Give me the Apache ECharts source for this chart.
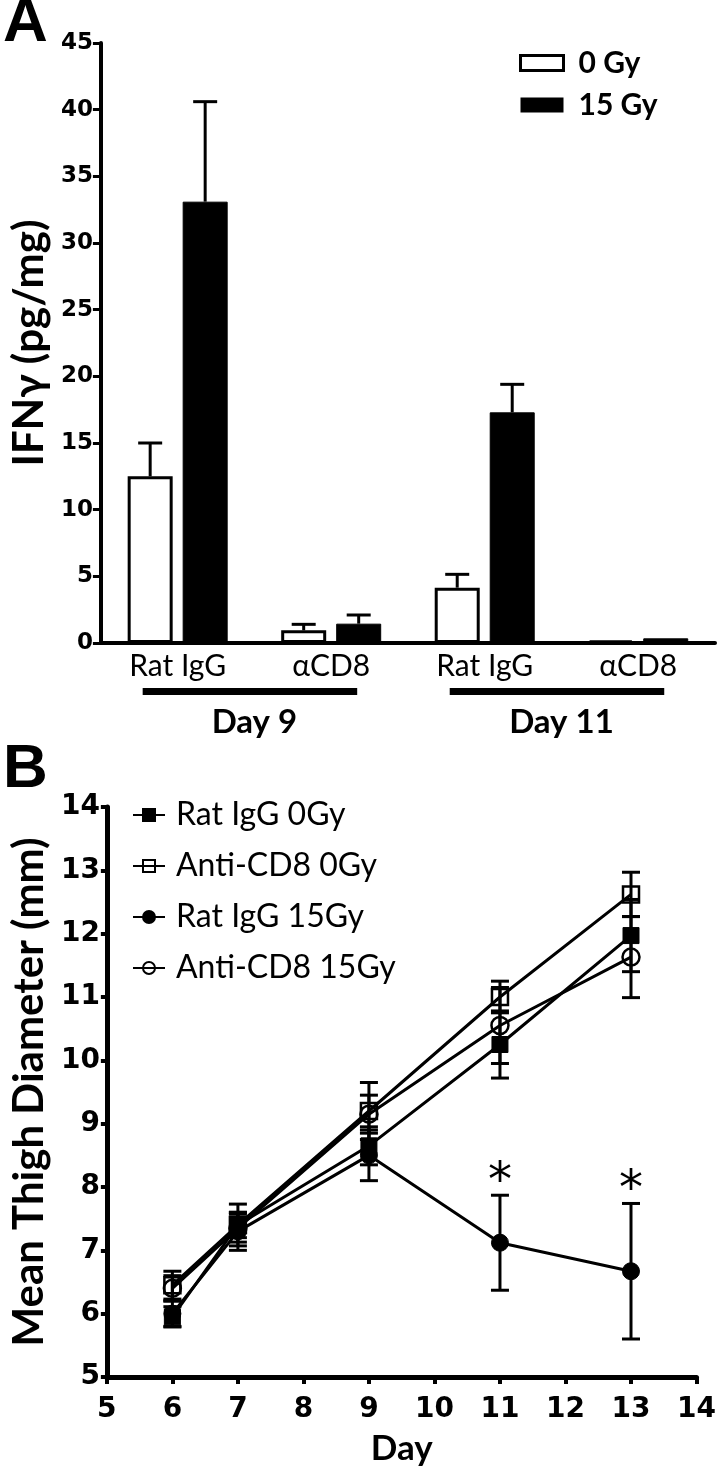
<!DOCTYPE html>
<html><head><meta charset="utf-8">
<script src="https://cdn.jsdelivr.net/npm/echarts@6/dist/echarts.min.js"></script>
<style>html,body{margin:0;padding:0;background:#fff}#c{width:719px;height:1467px}</style>
</head><body><div id="c"></div>
<script>
// ---------- Panel A data ----------
const groupsA = ['Rat IgG', 'αCD8', 'Rat IgG', 'αCD8'];
const daysA = ['Day 9', 'Day 11'];
const gy0Mean = [12.5, 0.95, 4.15, 0.2];
const gy0Err = [2.5, 0.45, 1.0, 0];
const gy15Mean = [33.1, 1.45, 17.3, 0.35];
const gy15Err = [7.5, 0.65, 2.1, 0];
const ticksA = [0, 5, 10, 15, 20, 25, 30, 35, 40, 45];

// ---------- Panel B data ----------
const days = [6, 7, 9, 11, 13];
const ratIgG0 = [5.95, 7.4, 8.65, 10.25, 11.97];
const ratIgG0Err = [0.16, 0.2, 0.3, 0.53, 0.57];
const anti0 = [6.45, 7.4, 9.2, 11.0, 12.62];
const anti0Err = [0.22, 0.33, 0.45, 0.25, 0.35];
const ratIgG15 = [6.0, 7.3, 8.5, 7.12, 6.67];
const ratIgG15Err = [0.2, 0.3, 0.4, 0.75, 1.07];
const anti15 = [6.4, 7.35, 9.15, 10.55, 11.63];
const anti15Err = [0.2, 0.22, 0.3, 0.6, 0.64];
const sig15 = ['', '', '', '*', '*'];
const ticksB = [5, 6, 7, 8, 9, 10, 11, 12, 13, 14];

const BAR_W = 45, BAR_GAP = 10;
const numFont = 'DejaVu Sans';
const txtFont = 'Lato';

function errA(means, errs, side) {
  return {
    type: 'custom', xAxisIndex: 0, yAxisIndex: 0, z: 3, silent: true,
    data: means.map((m, i) => [i, m, errs[i]]),
    renderItem(params, api) {
      const i = api.value(0), m = api.value(1), e = api.value(2);
      if (!e) return { type: 'group', children: [] };
      const c0 = api.coord([i, m]), c1 = api.coord([i, m + e]);
      const x = c0[0] + side * (BAR_W + BAR_GAP) / 2;
      const st = { stroke: '#000', lineWidth: 3 };
      return { type: 'group', children: [
        { type: 'line', shape: { x1: x, y1: c0[1], x2: x, y2: c1[1] }, style: st },
        { type: 'line', shape: { x1: x - 12, y1: c1[1], x2: x + 12, y2: c1[1] }, style: st }
      ]};
    }
  };
}

function errB(means, errs, stars) {
  return {
    type: 'custom', xAxisIndex: 1, yAxisIndex: 1, z: 2, silent: true,
    data: days.map((d, i) => [d, means[i], errs[i]]),
    renderItem(params, api) {
      const x = api.value(0), m = api.value(1), e = api.value(2);
      const t = api.coord([x, m + e]), b = api.coord([x, m - e]);
      const st = { stroke: '#000', lineWidth: 3 };
      const ch = [
        { type: 'line', shape: { x1: t[0], y1: t[1], x2: b[0], y2: b[1] }, style: st },
        { type: 'line', shape: { x1: t[0] - 9, y1: t[1], x2: t[0] + 9, y2: t[1] }, style: st },
        { type: 'line', shape: { x1: b[0] - 9, y1: b[1], x2: b[0] + 9, y2: b[1] }, style: st }
      ];
      const s = stars ? stars[params.dataIndex] : '';
      if (s) ch.push({ type: 'text', style: { text: s, x: t[0], y: t[1] - 12, align: 'center', verticalAlign: 'middle', fontSize: 48, fontFamily: 'DejaVu Sans', fill: '#000' } });
      return { type: 'group', children: ch };
    }
  };
}

function lineB(name, vals, symbol, filled, size) {
  return {
    name, type: 'line', xAxisIndex: 1, yAxisIndex: 1, z: 4,
    data: days.map((d, i) => [d, vals[i]]),
    symbol, symbolSize: size, showSymbol: true,
    lineStyle: { color: '#000', width: 3 },
    itemStyle: filled ? { color: '#000', borderColor: '#000', borderWidth: 1 }
                      : { color: 'rgba(0,0,0,0)', borderColor: '#000', borderWidth: 2.5 },
    emphasis: { disabled: true }
  };
}

const chart = echarts.init(document.getElementById('c'), null, { renderer: 'canvas' });
const axisLblA = { color: '#000', fontFamily: numFont, fontWeight: 'bold', fontSize: 23 };
const axisLblB = { color: '#000', fontFamily: numFont, fontWeight: 'bold', fontSize: 28 };

chart.setOption({
  animation: false,
  backgroundColor: '#fff',
  title: [
    { text: 'A', left: -2, top: -12, textStyle: { fontFamily: 'Liberation Sans', fontWeight: 'bold', fontSize: 62, color: '#000' } },
    { text: 'B', left: -2, top: 734, textStyle: { fontFamily: 'Liberation Sans', fontWeight: 'bold', fontSize: 62, color: '#000' } }
  ],
  legend: [
    {
      orient: 'vertical', left: 514, top: 43, itemWidth: 43, itemHeight: 15, itemGap: 12,
      icon: 'rect', selectedMode: false,
      textStyle: { fontFamily: txtFont, fontWeight: 'bold', fontSize: 30, lineHeight: 30, color: '#000', padding: [0, 0, 0, 10] },
      data: [
        { name: '0 Gy', itemStyle: { color: '#fff', borderColor: '#000', borderWidth: 3 } },
        { name: '15 Gy', itemStyle: { color: '#000', borderColor: '#000', borderWidth: 0 } }
      ]
    },
    {
      orient: 'vertical', left: 127, top: 794, itemWidth: 32, itemHeight: 15, itemGap: 19,
      selectedMode: false,
      textStyle: { fontFamily: txtFont, fontSize: 32, lineHeight: 32, color: '#000', padding: [0, 0, 0, 6] },
      data: ['Rat IgG 0Gy', 'Anti-CD8 0Gy', 'Rat IgG 15Gy', 'Anti-CD8 15Gy']
    }
  ],
  grid: [
    { left: 97, top: 43, right: 4, bottom: 824, containLabel: false },
    { left: 96, top: 807, right: 22, bottom: 90, containLabel: false }
  ],
  xAxis: [
    {
      gridIndex: 0, type: 'category', data: groupsA,
      axisLine: { lineStyle: { color: '#000', width: 4 } },
      axisTick: { show: false },
      axisLabel: { color: '#000', fontFamily: txtFont, fontSize: 30, margin: 8 },
      splitLine: { show: false }
    },
    {
      gridIndex: 1, type: 'value', min: 5, max: 14, interval: 1,
      name: 'Day', nameLocation: 'middle', nameGap: 54,
      nameTextStyle: { color: '#000', fontFamily: txtFont, fontWeight: 'bold', fontSize: 35 },
      axisLine: { onZero: false, lineStyle: { color: '#000', width: 5 } },
      axisTick: { show: true, length: 7, lineStyle: { color: '#000', width: 4 } },
      axisLabel: { ...axisLblB, margin: 19 },
      splitLine: { show: false }
    },
    {
      gridIndex: 0, type: 'category', data: daysA, position: 'bottom', offset: 58,
      axisLine: { show: false }, axisTick: { show: false },
      axisLabel: { color: '#000', fontFamily: txtFont, fontWeight: 'bold', fontSize: 33, margin: 5 },
      splitLine: { show: false }
    }
  ],
  yAxis: [
    {
      gridIndex: 0, type: 'value', min: 0, max: 45, interval: 5,
      name: 'IFNγ (pg/mg)', nameLocation: 'middle', nameGap: 50,
      nameTextStyle: { color: '#000', fontFamily: txtFont, fontWeight: 'bold', fontSize: 42 },
      axisLine: { show: true, lineStyle: { color: '#000', width: 4 } },
      axisTick: { show: true, length: 8, lineStyle: { color: '#000', width: 3 } },
      axisLabel: { ...axisLblA, margin: 8, formatter: v => ticksA.includes(v) ? String(v) : '' },
      splitLine: { show: false }
    },
    {
      gridIndex: 1, type: 'value', min: 5, max: 14, interval: 1,
      name: 'Mean Thigh Diameter (mm)', nameLocation: 'middle', nameGap: 48,
      nameTextStyle: { color: '#000', fontFamily: txtFont, fontWeight: 'bold', fontSize: 42 },
      axisLine: { show: true, onZero: false, lineStyle: { color: '#000', width: 5 } },
      axisTick: { show: true, length: 6, lineStyle: { color: '#000', width: 4 } },
      axisLabel: { ...axisLblB, margin: 7, formatter: v => ticksB.includes(v) ? String(v) : '' },
      splitLine: { show: false }
    }
  ],
  series: [
    {
      name: '0 Gy', type: 'bar', xAxisIndex: 0, yAxisIndex: 0, data: gy0Mean,
      barWidth: BAR_W, barGap: (BAR_GAP / BAR_W * 100) + '%', z: 2,
      itemStyle: { color: '#fff', borderColor: '#000', borderWidth: 3 },
      emphasis: { disabled: true }
    },
    {
      name: '15 Gy', type: 'bar', xAxisIndex: 0, yAxisIndex: 0, data: gy15Mean,
      barWidth: BAR_W, z: 2,
      itemStyle: { color: '#000', borderColor: '#000', borderWidth: 1 },
      emphasis: { disabled: true }
    },
    errA(gy0Mean, gy0Err, -1),
    errA(gy15Mean, gy15Err, 1),
    errB(ratIgG0, ratIgG0Err),
    errB(anti0, anti0Err),
    errB(ratIgG15, ratIgG15Err, sig15),
    errB(anti15, anti15Err),
    lineB('Rat IgG 0Gy', ratIgG0, 'rect', true, 16),
    lineB('Anti-CD8 0Gy', anti0, 'rect', false, 16),
    lineB('Rat IgG 15Gy', ratIgG15, 'circle', true, 17),
    lineB('Anti-CD8 15Gy', anti15, 'circle', false, 17)
  ]
});

// Group underlines under the category labels (positions from the category scale)
function drawUnderlines() {
  const els = [];
  for (let g = 0; g < daysA.length; g++) {
    const p0 = chart.convertToPixel({ xAxisIndex: 0, yAxisIndex: 0 }, [g * 2, 0]);
    const p1 = chart.convertToPixel({ xAxisIndex: 0, yAxisIndex: 0 }, [g * 2 + 1, 0]);
    els.push({ type: 'rect', shape: { x: p0[0] - 35, y: p0[1] + 45, width: (p1[0] + 26) - (p0[0] - 35), height: 7 }, style: { fill: '#000' } });
  }
  chart.setOption({ graphic: els });
}
drawUnderlines();
</script>
</body></html>
